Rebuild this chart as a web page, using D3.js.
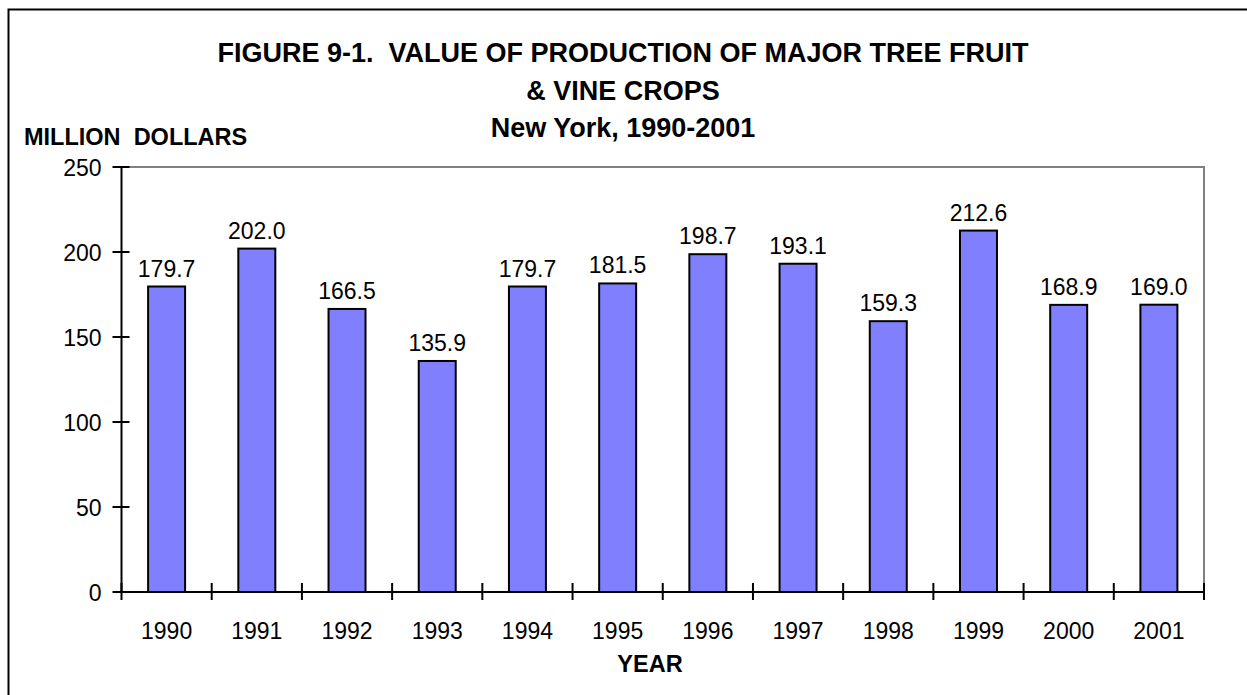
<!DOCTYPE html>
<html>
<head>
<meta charset="utf-8">
<script src="https://cdn.jsdelivr.net/npm/d3@7"></script>
<style>
  html, body { margin: 0; padding: 0; background: #fff; }
  svg { display: block; font-family: "Liberation Sans", Arial, sans-serif; }
</style>
</head>
<body>
<svg id="chart" width="1247" height="695"></svg>
<script>
const years = ["1990","1991","1992","1993","1994","1995","1996","1997","1998","1999","2000","2001"];
const values = [179.7, 202.0, 166.5, 135.9, 179.7, 181.5, 198.7, 193.1, 159.3, 212.6, 168.9, 169.0];
const yTicks = [0, 50, 100, 150, 200, 250];
const titleLines = ["FIGURE 9-1.  VALUE OF PRODUCTION OF MAJOR TREE FRUIT", "& VINE CROPS", "New York, 1990-2001"];
const yLabel = "MILLION  DOLLARS";
const xLabel = "YEAR";

(function () {
const svg = d3.select("#chart");
const pLeft = 121.5, pRight = 1204, pTop = 167, pBottom = 592;
const fs = 23;

// outer frame (only top & left edges are visible)
svg.append("rect").attr("x", 8.5).attr("y", 9.5).attr("width", 1400).attr("height", 800)
  .attr("fill", "none").attr("stroke", "#000").attr("stroke-width", 2);

const x = d3.scaleBand().domain(years).range([pLeft, pRight]).padding(0);
const y = d3.scaleLinear().domain([0, 250]).range([pBottom, pTop]);

// plot border (top and right grey)
svg.append("path")
  .attr("d", `M${pLeft},${pTop}H${pRight}V${pBottom}`)
  .attr("fill", "none").attr("stroke", "#808080").attr("stroke-width", 2);

// bars
const barW = x.bandwidth() * 0.41;
svg.append("g").selectAll("rect").data(years).join("rect")
  .attr("x", (d) => x(d) + x.bandwidth() / 2 - barW / 2)
  .attr("y", (d, i) => y(values[i]))
  .attr("width", barW)
  .attr("height", (d, i) => y(0) - y(values[i]))
  .attr("fill", "#8080FF").attr("stroke", "#000").attr("stroke-width", 2);

// value labels
svg.append("g").selectAll("text").data(years).join("text")
  .attr("x", (d) => x(d) + x.bandwidth() / 2)
  .attr("y", (d, i) => y(values[i]) - 10)
  .attr("text-anchor", "middle").attr("font-size", fs).attr("fill", "#000")
  .text((d, i) => values[i].toFixed(1));

// axes lines
svg.append("line").attr("x1", pLeft).attr("x2", pLeft).attr("y1", pTop).attr("y2", pBottom)
  .attr("stroke", "#000").attr("stroke-width", 2);
svg.append("line").attr("x1", pLeft).attr("x2", pRight).attr("y1", pBottom).attr("y2", pBottom)
  .attr("stroke", "#000").attr("stroke-width", 2);

// y ticks
const yg = svg.append("g");
yg.selectAll("line").data(yTicks).join("line")
  .attr("x1", pLeft - 9).attr("x2", pLeft + 8)
  .attr("y1", (d) => y(d)).attr("y2", (d) => y(d))
  .attr("stroke", "#000").attr("stroke-width", 2);
yg.selectAll("text").data(yTicks).join("text")
  .attr("x", pLeft - 20).attr("y", (d) => y(d) + 9)
  .attr("text-anchor", "end").attr("font-size", fs).attr("fill", "#000")
  .text((d) => d);

// x ticks at category boundaries
const bounds = years.map((d) => x(d)).concat([x(years[years.length - 1]) + x.bandwidth()]);
svg.append("g").selectAll("line").data(bounds).join("line")
  .attr("x1", (d) => d).attr("x2", (d) => d)
  .attr("y1", pBottom - 9).attr("y2", pBottom + 8)
  .attr("stroke", "#000").attr("stroke-width", 2);
svg.append("g").selectAll("text").data(years).join("text")
  .attr("x", (d) => x(d) + x.bandwidth() / 2).attr("y", 638.5)
  .attr("text-anchor", "middle").attr("font-size", fs).attr("fill", "#000")
  .text((d) => d);

// titles
const titleY = [62, 99.5, 137];
svg.append("g").selectAll("text").data(titleLines).join("text")
  .attr("x", 623).attr("y", (d, i) => titleY[i])
  .attr("text-anchor", "middle").attr("font-size", 27).attr("font-weight", "bold").attr("fill", "#000")
  .style("white-space", "pre")
  .text((d) => d);

svg.append("text").attr("x", 24).attr("y", 145)
  .attr("font-size", 23.5).attr("font-weight", "bold").attr("fill", "#000")
  .style("white-space", "pre")
  .text(yLabel);
svg.append("text").attr("x", 650).attr("y", 672)
  .attr("text-anchor", "middle").attr("font-size", 23.5).attr("font-weight", "bold").attr("fill", "#000")
  .text(xLabel);
})();
</script>
</body>
</html>
